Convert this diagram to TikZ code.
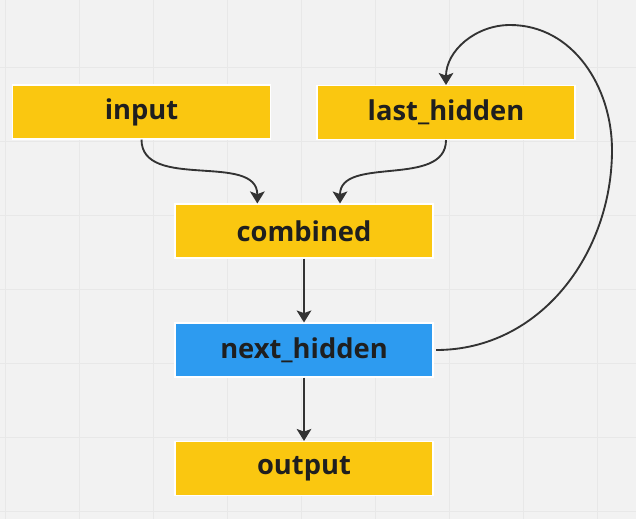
\documentclass[tikz,border=0pt]{standalone}
\usepackage{fontspec}
\setmainfont{Open Sans}
\usetikzlibrary{arrows.meta}
\definecolor{boardbg}{HTML}{F2F2F2}
\definecolor{gridline}{HTML}{E8E8E8}
\definecolor{stickyyellow}{HTML}{FAC710}
\definecolor{stickyblue}{HTML}{2D9BF0}
\definecolor{inkdark}{HTML}{333333}
\tikzset{
  box/.style={draw=white, line width=0.8pt, inner sep=0pt, minimum width=193.5pt,
    minimum height=40.5pt, font=\fontsize{20.5}{24}\selectfont\bfseries, text=black!88},
  flow/.style={draw=inkdark, line width=1.4pt, -{Stealth[length=9pt,width=11pt,inset=2pt]}}
}
\begin{document}
\begin{tikzpicture}[x=0.75pt,y=-0.75pt]
% Board
\fill[boardbg] (0,0) rectangle (636,519);
\useasboundingbox (0,0) rectangle (636,519);
\foreach \gx in {5,79,...,597} \draw[gridline,line width=0.75pt] (\gx,0) -- (\gx,519);
\foreach \gy in {67,141,...,511} \draw[gridline,line width=0.75pt] (0,\gy) -- (636,\gy);

% Boxes
\node[box,fill=stickyyellow] (input) at (141.5,112) {input};
\node[box,fill=stickyyellow] (last) at (446,112.5) {last\_hidden};
\node[box,fill=stickyyellow] (combined) at (304,231) {combined};
\node[box,fill=stickyblue] (next) at (304,350) {next\_hidden};
\node[box,fill=stickyyellow] (output) at (304,468.5) {output};

% Loop points
\coordinate (loopR) at (612,150);
\coordinate (loopT) at (510,25);

% Arrows
\draw[flow] (input.south) to[out=-90,in=90] ([xshift=-35pt]combined.north);
\draw[flow] (last.south) to[out=-90,in=90] ([xshift=27pt]combined.north);
\draw[flow] (combined) -- (next);
\draw[flow] (next) -- (output);
\draw[flow] ([xshift=2pt]next.east) to[out=0,in=-90] (loopR) to[out=90,in=0] (loopT)
  to[out=180,in=90] (last.north);
\end{tikzpicture}
\end{document}
